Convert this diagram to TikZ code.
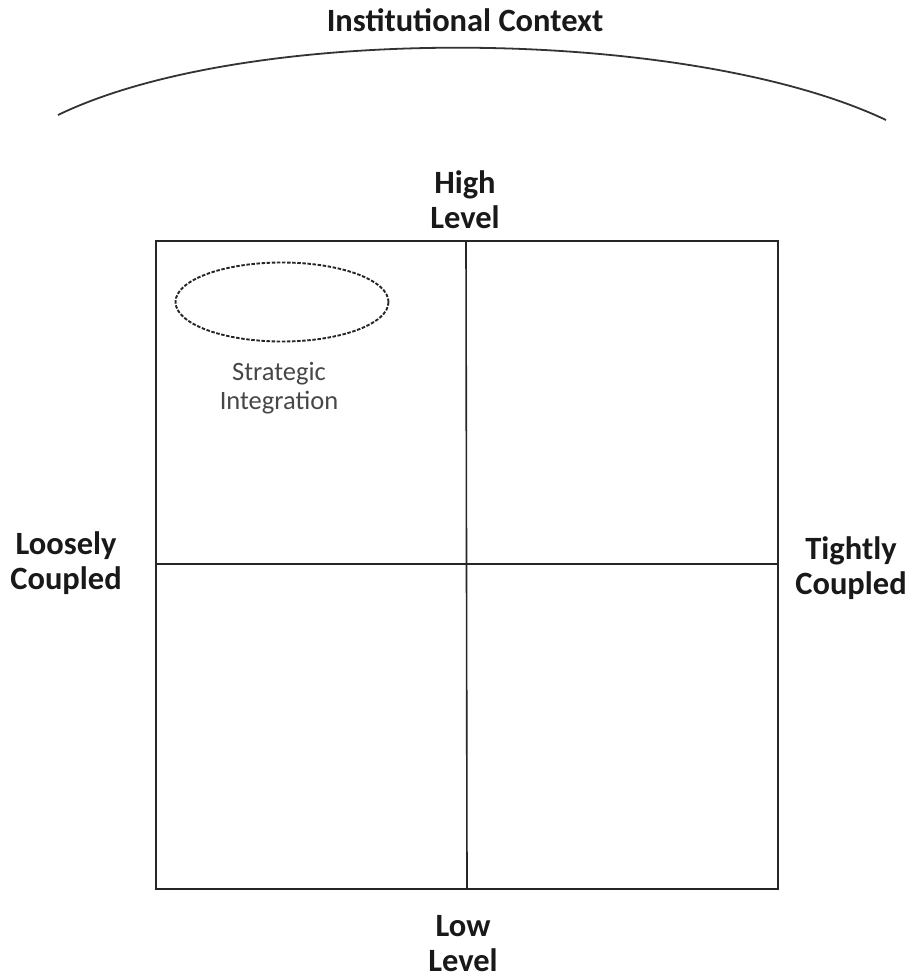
\documentclass[tikz,border=0pt]{standalone}
\usepackage{fontspec}
\setmainfont{Carlito}
\usetikzlibrary{shapes.geometric}
\begin{document}
\begin{tikzpicture}[x=1pt,y=-1pt,
  lbl/.style={font=\fontsize{32.5}{35}\selectfont\bfseries, align=center, inner sep=0pt, text=black!90},
  small/.style={font=\fontsize{26.5}{29}\selectfont, align=center, inner sep=0pt, text=black!72},
  frame/.style={line width=1.6pt, draw=black!85}]
\useasboundingbox (0,0) rectangle (909,979);
\coordinate (tl) at (156,241);
\coordinate (br) at (778,889);
\coordinate (mt) at (466,241);
\coordinate (mb) at (467,889);
\coordinate (ml) at (156,564);
\coordinate (mr) at (778,564);
\coordinate (al) at (58,115);
\coordinate (ar) at (886,120);
\draw[frame] (tl) rectangle (br);
\draw[frame] (mt) -- (mb);
\draw[frame] (ml) -- (mr);
\draw[line width=1.8pt, draw=black!80] (al) .. controls (250,22) and (690,27) .. (ar);
\node[ellipse, draw=black!85, dash pattern=on 3.5pt off 1.6pt, line width=1.9pt, minimum width=213pt, minimum height=79pt, inner sep=0pt] (ell) at (282,302) {};
\node[small] (si) at (279,388) {Strategic\\Integration};
\node[lbl] (ic) at (465,20) {Institutional Context};
\node[lbl] (hl) at (465,200) {High\\Level};
\node[lbl] (lc) at (66,563) {Loosely\\Coupled};
\node[lbl] (tc) at (851,568) {Tightly\\Coupled};
\node[lbl] (ll) at (463,944) {Low\\Level};
\end{tikzpicture}
\end{document}
